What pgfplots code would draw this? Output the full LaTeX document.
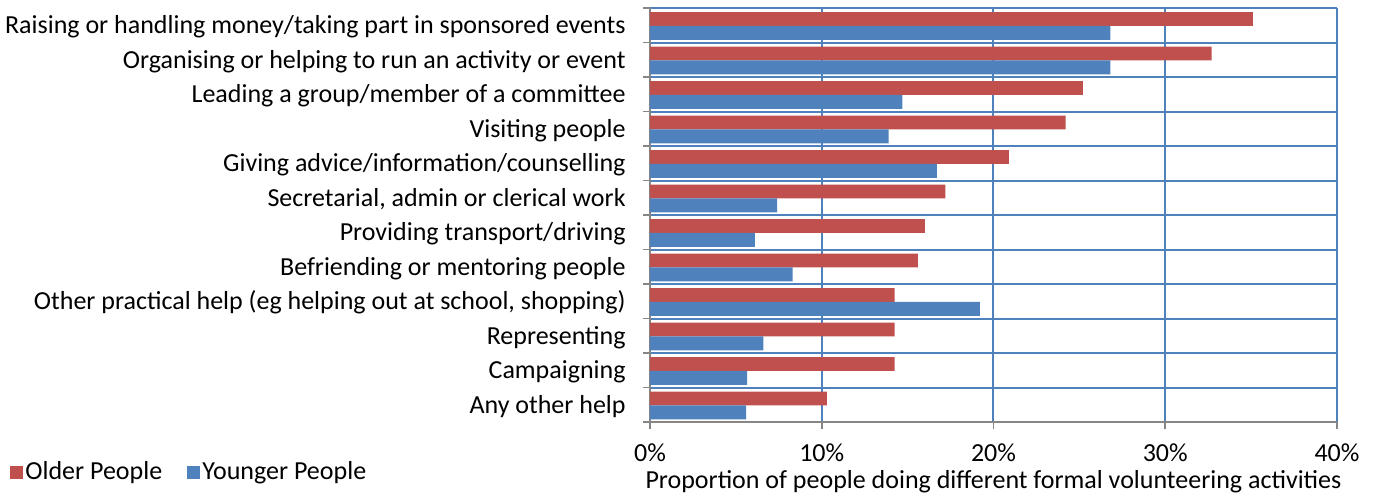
\documentclass[border=0pt]{standalone}
\usepackage{fontspec}
\setmainfont{Carlito}
\usepackage{pgfplots}
\pgfplotsset{compat=1.18}
\definecolor{cOld}{HTML}{C0504D}
\definecolor{cYoung}{HTML}{4F81BD}
\definecolor{cGrid}{HTML}{4F81BD}
\definecolor{cAxis}{HTML}{868686}

\begin{document}
\fontsize{13}{15.6}\selectfont
\begin{tikzpicture}
\useasboundingbox (-325pt,-39pt) rectangle (363pt,211pt);
\begin{axis}[
  scale only axis, width=343.5pt, height=207pt,
  xbar, bar width=0.4,
  xmin=0, xmax=40, ymin=-0.5, ymax=11.5, y dir=reverse,
  enlargelimits=false,
  axis x line*=bottom, axis y line*=left,
  axis line style={cAxis, line width=1pt, -},
  xtick={0,10,...,40},
  xticklabel={\pgfmathprintnumber{\tick}\%},
  /pgf/number format/assume math mode=true,
  xticklabel style={anchor=base, inner sep=0pt, yshift=-16pt},
  ytick={-0.5,0.5,...,11.5}, yticklabels={},
  xmajorgrids, ymajorgrids,
  grid style={cGrid, line width=1pt},
  tick align=outside, major tick length=3.5pt,
  tick style={cAxis, line width=0.8pt},
  extra y ticks={0,1,...,11},
  extra y tick labels={
    Raising or handling money/taking part in sponsored events,
    Organising or helping to run an activity or event,
    Leading a group/member of a committee,
    Visiting people,
    Giving advice/information/counselling,
    {Secretarial, admin or clerical work},
    Providing transport/driving,
    Befriending or mentoring people,
    {Other practical help (eg helping out at school, shopping)},
    Representing,
    Campaigning,
    Any other help},
  extra y tick style={grid=none, major tick length=0pt, tick style={draw=none},
    yticklabel style={anchor=base east, inner sep=0pt, xshift=-12pt, yshift=-4.2pt}},
  xlabel={Proportion of people doing different formal volunteering activities},
  xlabel style={at={(axis description cs:0.5,0)}, anchor=base, inner sep=0pt, yshift=-33pt},
  legend columns=2,
  legend style={draw=none, fill=none, inner sep=0pt, anchor=west,
    at={(axis description cs:-0.9325,-0.122)},
    nodes={inner sep=1.3pt},
    /tikz/every even column/.append style={column sep=11pt}},
  legend image code/.code={\fill[#1] (0pt,-3.25pt) rectangle (6.5pt,3.25pt);},
]
\addplot[fill=cOld, draw=none, bar shift=-0.18] coordinates {
  (35.1,0) (32.7,1) (25.2,2) (24.2,3) (20.9,4) (17.2,5)
  (16.0,6) (15.6,7) (14.25,8) (14.25,9) (14.25,10) (10.3,11)};
\addplot[fill=cYoung, draw=none, bar shift=0.22] coordinates {
  (26.8,0) (26.8,1) (14.7,2) (13.9,3) (16.7,4) (7.4,5)
  (6.1,6) (8.3,7) (19.2,8) (6.6,9) (5.65,10) (5.6,11)};
\legend{Older People, Younger People}
\end{axis}
\end{tikzpicture}
\end{document}
